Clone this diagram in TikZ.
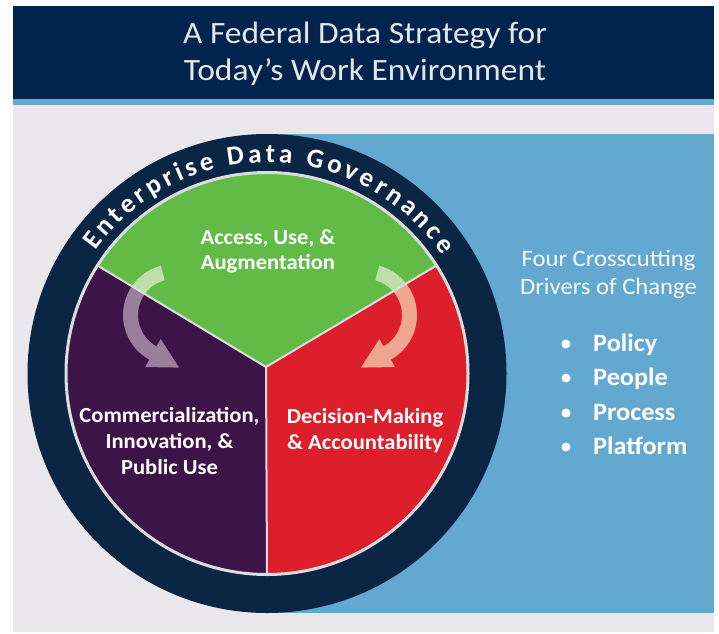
\documentclass[tikz,border=0pt]{standalone}
\usepackage{fontspec}
\setmainfont{Carlito}
\newfontfamily\titlefont[FakeStretch=1.08]{Carlito}
\newfontfamily\labelfont[FakeStretch=1.05]{Carlito}
\newfontfamily\drvfont[FakeStretch=1.05]{Carlito}
\usetikzlibrary{calc,decorations.text}
\definecolor{titlenavy}{HTML}{01244E}
\definecolor{ringnavy}{HTML}{0B2545}
\definecolor{skyblue}{HTML}{62A8D1}
\definecolor{bggrey}{HTML}{E9E7EB}
\definecolor{sgreen}{HTML}{62BB47}
\definecolor{sred}{HTML}{DD1F2C}
\definecolor{spurple}{HTML}{3D1447}
\definecolor{titletext}{HTML}{E6E6EA}
\definecolor{agreen}{HTML}{BFDFAA}
\definecolor{apurple}{HTML}{9A7F9C}
\definecolor{ared}{HTML}{EEA693}
\definecolor{divider}{HTML}{DCDCE0}
\newcommand\arrowL{($(Ca)+(105:51pt)$) arc[start angle=105, end angle=241, radius=51pt] -- ($(Ca)+(241:59.5pt)$) -- ($(Ca)+(241:43.5pt)+(331:30pt)$) -- ($(Ca)+(241:27.5pt)$) -- ($(Ca)+(241:36pt)$) arc[start angle=241, end angle=105, radius=36pt] -- cycle}
\newcommand\arrowR{($(Cb)+(75:51pt)$) arc[start angle=75, end angle=-61, radius=51pt] -- ($(Cb)+(-61:59.5pt)$) -- ($(Cb)+(-61:43.5pt)+(209:30pt)$) -- ($(Cb)+(-61:27.5pt)$) -- ($(Cb)+(-61:36pt)$) arc[start angle=-61, end angle=75, radius=36pt] -- cycle}
\newcommand\greensector{(V) -- (L) arc[start angle=147.5, end angle=32.5, radius=201pt] -- cycle}
\newcommand\redsector{(V) -- (R) arc[start angle=32.5, end angle=-90, radius=201pt] -- cycle}
\newcommand\purplesector{(V) -- (B) arc[start angle=-90, end angle=-212.5, radius=201pt] -- cycle}
\begin{document}
\begin{tikzpicture}[x=1pt,y=1pt,
 titlestyle/.style={text=titletext, font=\titlefont\fontsize{31}{31}\selectfont, anchor=base, inner sep=0},
 labelstyle/.style={text=white, font=\labelfont\bfseries\fontsize{21.5}{21.5}\selectfont, anchor=base, inner sep=0},
 drvstyle/.style={text=white!95!skyblue, font=\drvfont\fontsize{23.5}{23.5}\selectfont, anchor=base, inner sep=0},
 itemstyle/.style={text=white, font=\labelfont\bfseries\fontsize{25}{25}\selectfont, anchor=base west, inner sep=0},
 bulletdot/.style={circle, fill=white, inner sep=0, minimum size=9pt},
 divline/.style={draw=divider, line width=2pt},
]
\useasboundingbox (0,0) rectangle (719,633);
\fill[white] (0,0) rectangle (719,633);
\fill[titlenavy] (13,534) rectangle (714,627);
\fill[skyblue] (13,528) rectangle (714,534);
\fill[bggrey] (13,1) rectangle (714,528);
\fill[skyblue] (262,20) rectangle (714,499);
\coordinate (C) at (267,259.5);
\coordinate (V) at (266,266);
\coordinate (L) at ($(C)+(147.5:201pt)$);
\coordinate (R) at ($(C)+(32.5:201pt)$);
\coordinate (B) at ($(C)+(270:201pt)$);
\coordinate (Ca) at (174,318);
\coordinate (Cb) at (366,318);
\fill[ringnavy] (C) circle[radius=239.5pt];
\fill[sgreen] \greensector;
\fill[sred] \redsector;
\fill[spurple] \purplesector;
\begin{scope}
\clip \greensector;
\fill[agreen] \arrowL;
\fill[agreen] \arrowR;
\end{scope}
\begin{scope}
\clip \purplesector;
\fill[apurple] \arrowL;
\end{scope}
\begin{scope}
\clip \redsector;
\fill[ared] \arrowR;
\end{scope}
\draw[divline] (V) -- (L);
\draw[divline] (V) -- (R);
\draw[divline] (V) -- (B);
\draw[draw=divider, line width=3pt] (C) circle[radius=201pt];
\path[decorate, decoration={text along path, text={|\bfseries\fontsize{27}{27}\selectfont|Enterprise Data Governance}, text align=fit to path, text color=white}] ($(C)+(144.5:211pt)$) arc[start angle=144.5, end angle=34, radius=211pt];
\node[titlestyle] (t1) at (365,589) {A Federal Data Strategy for};
\node[titlestyle] (t2) at (365,552) {Today’s Work Environment};
\node[labelstyle] (g1) at (268,389) {Access, Use, \&};
\node[labelstyle] (g2) at (268,363.5) {Augmentation};
\node[labelstyle] (p1) at (169.5,210.3) {Commercialization,};
\node[labelstyle] (p2) at (169.5,185) {Innovation, \&};
\node[labelstyle] (p3) at (169.5,159) {Public Use};
\node[labelstyle] (r1) at (365,210) {Decision-Making};
\node[labelstyle] (r2) at (365,184) {\& Accountability};
\node[drvstyle] (d1) at (608.5,367) {Four Crosscutting};
\node[drvstyle] (d2) at (608.5,338.7) {Drivers of Change};
\node[bulletdot] (b1) at (566,289) {};
\node[bulletdot] (b2) at (566,255) {};
\node[bulletdot] (b3) at (566,220) {};
\node[bulletdot] (b4) at (566,186) {};
\node[itemstyle] (i1) at (593,282) {Policy};
\node[itemstyle] (i2) at (593,248) {People};
\node[itemstyle] (i3) at (593,213) {Process};
\node[itemstyle] (i4) at (593,179) {Platform};
\end{tikzpicture}
\end{document}
